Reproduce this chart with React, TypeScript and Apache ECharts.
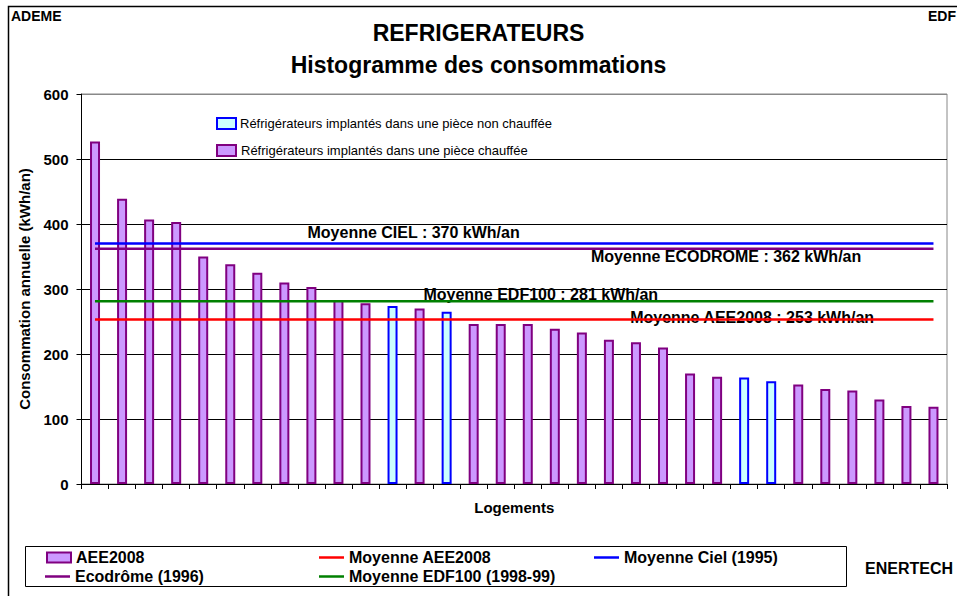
import React, { useEffect, useRef } from 'react';
import * as echarts from 'echarts';

// ---- Data ----
const LOGEMENTS = [
  '1', '2', '3', '4', '5', '6', '7', '8', '9', '10', '11', '12', '13', '14', '15', '16',
  '17', '18', '19', '20', '21', '22', '23', '24', '25', '26', '27', '28', '29', '30', '31', '32',
];
const CONSOMMATIONS_AEE2008 = [
  527, 439, 407, 403, 350, 338, 325, 310, 303, 283, 278, 274, 270, 265, 246, 246,
  246, 239, 233, 222, 218, 210, 170, 165, 164, 158, 153, 146, 144, 130, 120, 119,
];
// index of dwellings whose fridge sits in an unheated room
const PIECE_NON_CHAUFFEE = [11, 13, 24, 25];

const MOYENNE_AEE2008 = 253;
const MOYENNE_CIEL = 370;
const MOYENNE_ECODROME = 362;
const MOYENNE_EDF100 = 281;

const Y_MIN = 0;
const Y_MAX = 600;
const Y_INTERVAL = 100;

const FONT = '"Liberation Sans", Arial, Helvetica, sans-serif';

const PURPLE_FILL = '#CC99FF';
const PURPLE_BORDER = '#800080';
const CYAN_FILL = '#CCFFFF';
const BLUE = '#0000FF';
const RED = '#FF0000';
const GREEN = '#008000';

function meanSeries(name: string, value: number, color: string) {
  return {
    name,
    type: 'line',
    data: LOGEMENTS.map(() => value),
    symbol: 'none',
    showSymbol: false,
    color,
    itemStyle: { color },
    lineStyle: { color, width: 2.5 },
    silent: true,
    z: 3,
  };
}

export default function App() {
  const ref = useRef<HTMLDivElement>(null);

  useEffect(() => {
    document.body.style.margin = '0';
    if (!ref.current) return;
    const chart = echarts.init(ref.current, null, { renderer: 'svg' });

    const labelStyle = {
      show: true,
      position: 'inside',
      fontFamily: FONT,
      fontWeight: 'bold',
      fontSize: 16,
      color: '#000',
    };

    const legendText = {
      fontFamily: FONT,
      fontWeight: 'bold',
      fontSize: 16,
      lineHeight: 16,
      color: '#000',
    };

    const option: any = {
      animation: false,
      textStyle: { fontFamily: FONT },
      title: {
        left: 'center',
        top: 21,
        padding: 0,
        itemGap: 9.5,
        text: 'REFRIGERATEURS',
        subtext: 'Histogramme des consommations',
        textStyle: { fontFamily: FONT, fontWeight: 'bold', fontSize: 23, lineHeight: 23, color: '#000' },
        subtextStyle: { fontFamily: FONT, fontWeight: 'bold', fontSize: 23, lineHeight: 23, color: '#000' },
      },
      grid: {
        left: 81.5,
        top: 94,
        right: 10,
        bottom: 112,
        show: true,
        borderColor: '#888',
        borderWidth: 1,
        containLabel: false,
        outerBoundsMode: 'none',
      },
      xAxis: {
        type: 'category',
        data: LOGEMENTS,
        boundaryGap: true,
        name: 'Logements',
        nameLocation: 'middle',
        nameGap: 16,
        nameTextStyle: { fontFamily: FONT, fontWeight: 'bold', fontSize: 15, color: '#000' },
        axisLine: { show: true, lineStyle: { color: '#000', width: 1 } },
        axisTick: { show: true, inside: false, length: 5, interval: 0, lineStyle: { color: '#000' } },
        axisLabel: { show: false },
        splitLine: { show: false },
      },
      yAxis: {
        type: 'value',
        min: Y_MIN,
        max: Y_MAX,
        interval: Y_INTERVAL,
        name: 'Consommation annuelle (kWh/an)',
        nameLocation: 'middle',
        nameGap: 50,
        nameRotate: 90,
        nameTextStyle: { fontFamily: FONT, fontWeight: 'bold', fontSize: 15, color: '#000' },
        axisLine: { show: true, lineStyle: { color: '#000', width: 1 } },
        axisTick: { show: true, inside: false, length: 5, lineStyle: { color: '#000' } },
        axisLabel: { margin: 13, fontFamily: FONT, fontWeight: 'bold', fontSize: 15, color: '#000' },
        splitLine: {
          show: true,
          lineStyle: { color: ['#000', '#000', '#000', '#000', '#000', '#000', '#888'], width: 1 },
        },
      },
      legend: [
        {
          data: [
            {
              name: 'AEE2008',
              icon: 'rect',
              itemStyle: { color: PURPLE_FILL, borderColor: PURPLE_BORDER, borderWidth: 2 },
            },
          ],
          left: 46,
          top: 549.5,
          padding: 0,
          itemWidth: 24,
          itemHeight: 10,
          selectedMode: false,
          textStyle: legendText,
        },
        {
          data: [{ name: 'Ecodrôme (1996)', icon: 'rect' }],
          left: 45,
          top: 568.5,
          padding: 0,
          itemWidth: 25,
          itemHeight: 2.5,
          itemStyle: { borderWidth: 0 },
          selectedMode: false,
          textStyle: legendText,
        },
        {
          data: [
            { name: 'Moyenne AEE2008', icon: 'rect' },
            { name: 'Moyenne EDF100 (1998-99)', icon: 'rect' },
          ],
          orient: 'vertical',
          left: 319,
          top: 549.5,
          padding: 0,
          itemGap: 3,
          itemWidth: 25,
          itemHeight: 2.5,
          itemStyle: { borderWidth: 0 },
          selectedMode: false,
          textStyle: legendText,
        },
        {
          data: [{ name: 'Moyenne Ciel (1995)', icon: 'rect' }],
          left: 594,
          top: 549.5,
          padding: 0,
          itemWidth: 25,
          itemHeight: 2.5,
          itemStyle: { borderWidth: 0 },
          selectedMode: false,
          textStyle: legendText,
        },
      ],
      graphic: [
        {
          type: 'rect',
          silent: true,
          z: -10,
          shape: { x: 8.5, y: 6.5, width: 1000, height: 1000 },
          style: { fill: 'transparent', stroke: '#000', lineWidth: 1.5 },
        },
        {
          type: 'text',
          x: 11,
          y: 16,
          silent: true,
          style: { text: 'ADEME', fontFamily: FONT, fontWeight: 'bold', fontSize: 14, fill: '#000', align: 'left', verticalAlign: 'middle' },
        },
        {
          type: 'text',
          x: 956,
          y: 16,
          silent: true,
          style: { text: 'EDF', fontFamily: FONT, fontWeight: 'bold', fontSize: 14, fill: '#000', align: 'right', verticalAlign: 'middle' },
        },
        {
          type: 'text',
          x: 865,
          y: 568,
          silent: true,
          style: { text: 'ENERTECH', fontFamily: FONT, fontWeight: 'bold', fontSize: 16, fill: '#000', align: 'left', verticalAlign: 'middle' },
        },
        {
          type: 'rect',
          silent: true,
          z: -5,
          shape: { x: 25.5, y: 546.5, width: 821, height: 40 },
          style: { fill: '#fff', stroke: '#000', lineWidth: 1 },
        },
        {
          type: 'rect',
          silent: true,
          shape: { x: 217, y: 118, width: 19, height: 11 },
          style: { fill: CYAN_FILL, stroke: BLUE, lineWidth: 2 },
        },
        {
          type: 'text',
          x: 240,
          y: 123.5,
          silent: true,
          style: { text: 'Réfrigérateurs implantés dans une pièce non chauffée', fontFamily: FONT, fontSize: 13, fill: '#000', align: 'left', verticalAlign: 'middle' },
        },
        {
          type: 'rect',
          silent: true,
          shape: { x: 217, y: 145, width: 19, height: 11 },
          style: { fill: PURPLE_FILL, stroke: PURPLE_BORDER, lineWidth: 2 },
        },
        {
          type: 'text',
          x: 241,
          y: 150.5,
          silent: true,
          style: { text: 'Réfrigérateurs implantés dans une pièce chauffée', fontFamily: FONT, fontSize: 13, fill: '#000', align: 'left', verticalAlign: 'middle' },
        },
      ],
      series: [
        {
          name: 'AEE2008',
          type: 'bar',
          barWidth: 10,
          itemStyle: { color: PURPLE_FILL, borderColor: PURPLE_BORDER, borderWidth: 2 },
          data: CONSOMMATIONS_AEE2008.map((v, i) =>
            PIECE_NON_CHAUFFEE.includes(i)
              ? { value: v, itemStyle: { color: CYAN_FILL, borderColor: BLUE, borderWidth: 2 } }
              : v
          ),
          silent: true,
          z: 2,
          markPoint: {
            z: 1,
            silent: true,
            symbol: 'circle',
            symbolSize: 1,
            itemStyle: { color: 'rgba(0,0,0,0)' },
            label: labelStyle,
            data: [
              { coord: [12, MOYENNE_CIEL], label: { ...labelStyle, formatter: `Moyenne CIEL : ${MOYENNE_CIEL} kWh/an`, offset: [-6, -11] } },
              { coord: [23, MOYENNE_ECODROME], label: { ...labelStyle, formatter: `Moyenne ECODROME : ${MOYENNE_ECODROME} kWh/an`, offset: [9, 7.5] } },
              { coord: [16, MOYENNE_EDF100], label: { ...labelStyle, formatter: `Moyenne EDF100 : ${MOYENNE_EDF100} kWh/an`, offset: [13, -6.5] } },
              { coord: [24, MOYENNE_AEE2008], label: { ...labelStyle, formatter: `Moyenne AEE2008 : ${MOYENNE_AEE2008} kWh/an`, offset: [8, -2] } },
            ],
          },
        },
        meanSeries('Moyenne AEE2008', MOYENNE_AEE2008, RED),
        meanSeries('Moyenne Ciel (1995)', MOYENNE_CIEL, BLUE),
        meanSeries('Ecodrôme (1996)', MOYENNE_ECODROME, PURPLE_BORDER),
        meanSeries('Moyenne EDF100 (1998-99)', MOYENNE_EDF100, GREEN),
      ],
    };

    chart.setOption(option);
    return () => chart.dispose();
  }, []);

  return <div ref={ref} style={{ width: 957, height: 596, background: '#fff' }} />;
}
